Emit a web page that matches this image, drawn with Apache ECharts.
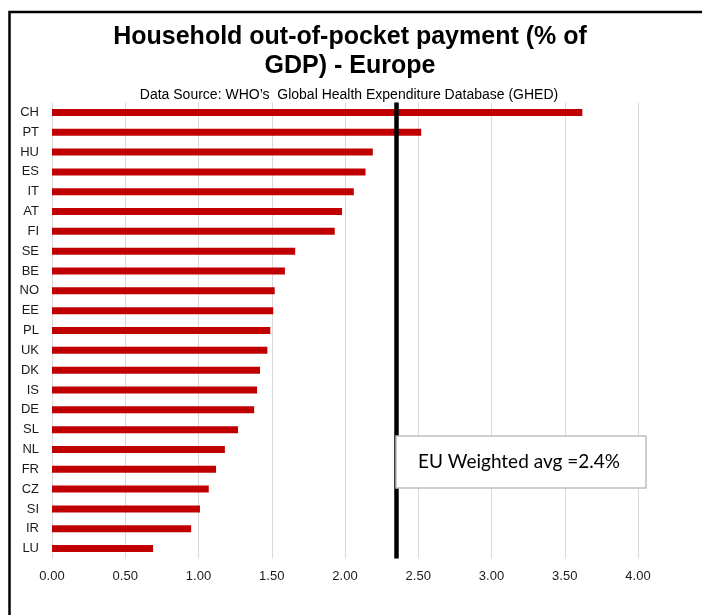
<!DOCTYPE html>
<html>
<head>
<meta charset="utf-8">
<script src="https://cdn.jsdelivr.net/npm/echarts@6/dist/echarts.min.js"></script>
<style>
html,body{margin:0;padding:0;background:#fff;}
#chart{width:702px;height:615px;}
</style>
</head>
<body>
<div id="chart"></div>
<script>
var categories = ['CH','PT','HU','ES','IT','AT','FI','SE','BE','NO','EE','PL','UK','DK','IS','DE','SL','NL','FR','CZ','SI','IR','LU'];
var values = [3.62,2.52,2.19,2.14,2.06,1.98,1.93,1.66,1.59,1.52,1.51,1.49,1.47,1.42,1.40,1.38,1.27,1.18,1.12,1.07,1.01,0.95,0.69];
var euAverage = 2.345;
var xTicks = {min:0, max:4, interval:0.5};
var titleText = 'Household out-of-pocket payment (% of\nGDP) - Europe';
var subtitleText = 'Data Source: WHO\u2019s  Global Health Expenditure Database (GHED)';
var annotationText = 'EU Weighted avg =2.4%';

var chart = echarts.init(document.getElementById('chart'), null, {renderer:'canvas'});
chart.setOption({
  backgroundColor:'#ffffff',
  animation:false,
  title:[{
    text:titleText,
    left:345, textAlign:'center', top:18,
    textStyle:{fontFamily:'Liberation Sans, Arial', fontWeight:'bold', fontSize:25, color:'#000', lineHeight:29}
  },{
    text:subtitleText,
    left:344, textAlign:'center', top:82,
    textStyle:{fontFamily:'Liberation Sans, Arial', fontWeight:'normal', fontSize:14, color:'#000', lineHeight:16}
  }],
  grid:{left:52, right:64, top:102.5, bottom:56.5, containLabel:false},
  xAxis:{
    type:'value', min:xTicks.min, max:xTicks.max, interval:xTicks.interval,
    axisLine:{show:false}, axisTick:{show:false},
    axisLabel:{formatter:function(v){return v.toFixed(2);}, fontFamily:'Liberation Sans, Arial', fontSize:13, color:'#1a1a1a', margin:11},
    splitLine:{lineStyle:{color:'#d9d9d9', width:1}}
  },
  yAxis:{
    type:'category', data:categories, inverse:true,
    axisLine:{show:false}, axisTick:{show:false},
    axisLabel:{fontFamily:'Liberation Sans, Arial', fontSize:13, color:'#1a1a1a', margin:13}
  },
  series:[{
    type:'bar', data:values, barWidth:7,
    itemStyle:{color:'#c00000'},
    markLine:{
      silent:true, symbol:'none',
      label:{show:false},
      lineStyle:{color:'#000', width:4.5, type:'solid'},
      data:[{xAxis:euAverage}]
    }
  }],
  graphic:[
    {type:'rect', shape:{x:9.5, y:12, width:900, height:900}, style:{fill:'none', stroke:'#000', lineWidth:2.5}, z:-1},
    {type:'rect', shape:{x:396, y:436, width:250, height:52}, style:{fill:'#fff', stroke:'#bfbfbf', lineWidth:1.5}, z:10},
    {type:'text', x:519, y:462, style:{text:annotationText, fill:'#000', font:'19px Lato', textAlign:'center', textVerticalAlign:'middle'}, z:11}
  ]
});
</script>
</body>
</html>
